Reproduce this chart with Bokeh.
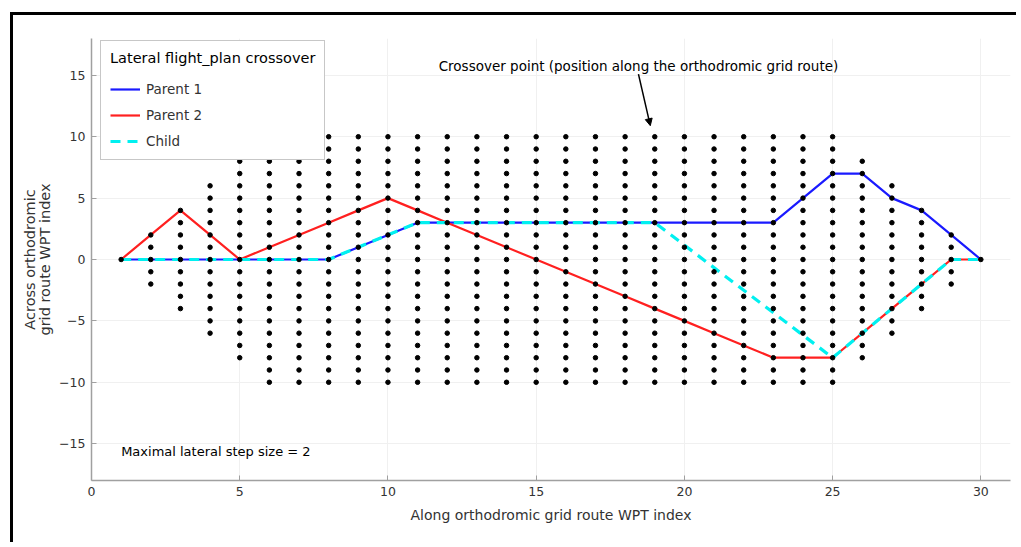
from bokeh.plotting import figure
from bokeh.models import (Range1d, Legend, LegendItem, Label, Arrow, NormalHead,
                          FixedTicker)
from bokeh.embed import file_html
from bokeh.resources import INLINE

# ---------------- data ----------------
wpt_index = list(range(1, 31))
parent1 = [0, 0, 0, 0, 0, 0, 0, 0, 1, 2, 3, 3, 3, 3, 3, 3, 3, 3, 3, 3, 3, 3, 3, 5, 7, 7, 5, 4, 2, 0]
parent2 = [0, 2, 4, 2, 0, 1, 2, 3, 4, 5, 4, 3, 2, 1, 0, -1, -2, -3, -4, -5, -6, -7, -8, -8, -8, -6, -4, -2, 0, 0]
child_x = [1, 2, 3, 4, 5, 6, 7, 8, 9, 10, 11, 12, 13, 14, 15, 16, 17, 18, 19, 25, 26, 27, 28, 29, 30]
child_y = [0, 0, 0, 0, 0, 0, 0, 0, 1, 2, 3, 3, 3, 3, 3, 3, 3, 3, 3, -8, -6, -4, -2, 0, 0]
lateral_limit = [0, 2, 4, 6, 8, 10, 10, 10, 10, 10, 10, 10, 10, 10, 10, 10, 10, 10, 10, 10,
                 10, 10, 10, 10, 10, 8, 6, 4, 2, 0]
x_ticks = [0, 5, 10, 15, 20, 25, 30]
y_ticks = [-15, -10, -5, 0, 5, 10, 15]
crossover_text = "Crossover point (position along the orthodromic grid route)"
step_text = "Maximal lateral step size = 2"

grid_x, grid_y = [], []
for xi, lim in zip(wpt_index, lateral_limit):
    for yi in range(-lim, lim + 1):
        grid_x.append(xi)
        grid_y.append(yi)

FONT = "DejaVu Sans"

p = figure(width=1006, height=530, output_backend="svg", toolbar_location=None,
           x_range=Range1d(0, 31), y_range=Range1d(-18, 18),
           min_border_left=78, min_border_right=9, min_border_top=23, min_border_bottom=65)
p.styles = {"margin-left": "10px", "margin-top": "12px",
            "border-left": "3px solid black", "border-top": "3px solid black"}
p.outline_line_color = None
p.background_fill_color = "white"

for ax in (p.xaxis[0], p.yaxis[0]):
    ax.axis_line_color = "#a0a0a0"
    ax.axis_line_width = 1.5
    ax.major_tick_in = 5
    ax.major_tick_out = 0
    ax.major_tick_line_color = "#a0a0a0"
    ax.minor_tick_line_color = None
    ax.major_label_text_font = FONT
    ax.major_label_text_font_size = "12.5px"
    ax.major_label_text_color = "#333333"
    ax.axis_label_text_font = FONT
    ax.axis_label_text_font_style = "normal"
    ax.axis_label_text_color = "#333333"

p.xaxis.axis_label_text_font_size = "14px"
p.yaxis.axis_label_text_font_size = "14.5px"
p.yaxis.axis_label_text_line_height = 0.95

p.xaxis.ticker = FixedTicker(ticks=x_ticks)
p.yaxis.ticker = FixedTicker(ticks=y_ticks)
p.xaxis.axis_label = "Along orthodromic grid route WPT index"
p.yaxis.axis_label = "Across orthodromic\ngrid route WPT index"
p.xaxis.major_label_standoff = 6
p.yaxis.major_label_standoff = 6
p.xaxis.axis_label_standoff = 8
p.yaxis.axis_label_standoff = 3

p.xgrid.ticker = FixedTicker(ticks=x_ticks)
p.ygrid.ticker = FixedTicker(ticks=y_ticks)
p.grid.grid_line_color = "#f0f0f0"
p.grid.grid_line_width = 1

r1 = p.line(wpt_index, parent1, line_color="#1a1aff", line_width=2.2)
r2 = p.line(wpt_index, parent2, line_color="#ff2020", line_width=2.2)
r3 = p.line(child_x, child_y, line_color="#00f0f0", line_width=3.2, line_dash="10 7")
p.scatter(grid_x, grid_y, size=4.5, marker="circle", color="black")

legend = Legend(items=[LegendItem(label="Parent 1", renderers=[r1]),
                       LegendItem(label="Parent 2", renderers=[r2]),
                       LegendItem(label="Child", renderers=[r3])],
                location=(9, 320), title="Lateral flight_plan crossover")
legend.title_text_font = FONT
legend.title_text_font_size = "14.5px"
legend.title_text_font_style = "normal"
legend.title_text_color = "black"
legend.title_standoff = 14
legend.label_text_font = FONT
legend.label_text_font_size = "13.5px"
legend.label_text_color = "#333333"
legend.border_line_color = "#909090"
legend.border_line_width = 1.2
legend.background_fill_alpha = 1
legend.glyph_width = 30
legend.glyph_height = 18
legend.label_height = 18
legend.label_standoff = 6
legend.spacing = 8
legend.padding = 9
legend.margin = 0
p.add_layout(legend)

p.add_layout(Label(x=18.45, y=15.8, text=crossover_text, text_align="center",
                   text_baseline="middle", text_font=FONT, text_font_size="13.5px",
                   text_color="black"))
p.add_layout(Arrow(end=NormalHead(size=7, fill_color="black", line_color="black"),
                   x_start=18.45, y_start=15.1, x_end=18.85, y_end=10.9,
                   line_color="black", line_width=1.5))
p.add_layout(Label(x=1.0, y=-15.6, text=step_text, text_align="left",
                   text_baseline="middle", text_font=FONT, text_font_size="13px",
                   text_color="black"))

open("out.html", "w").write(file_html(p, INLINE))
